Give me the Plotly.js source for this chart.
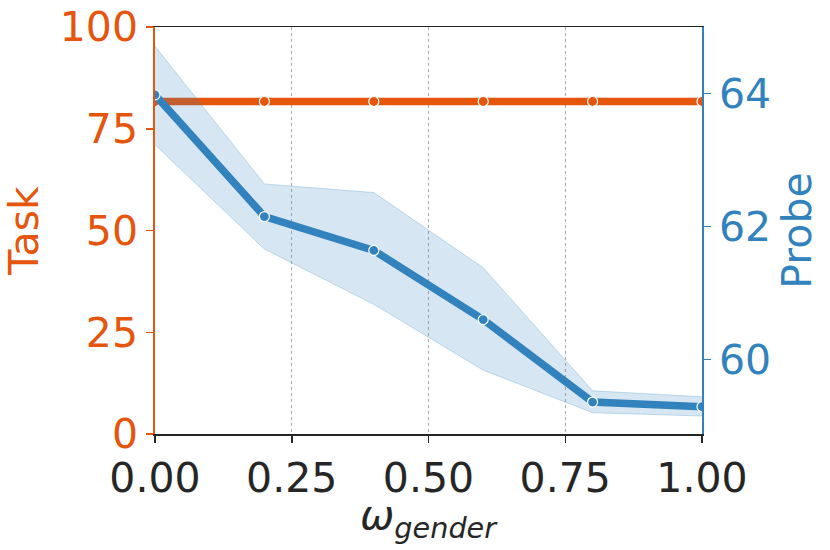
<!DOCTYPE html>
<html><head><meta charset="utf-8">
<script src="https://cdn.plot.ly/plotly-3.0.1.min.js"></script>
<style>html,body{margin:0;padding:0;background:#fff}</style>
</head><body>
<div id="chart" style="width:830px;height:550px"></div>
<script>
const omega = [0.0, 0.2, 0.4, 0.6, 0.8, 1.0];
const taskScore = [81.7, 81.7, 81.7, 81.7, 81.7, 81.7];
const probeMean = [63.98, 62.15, 61.64, 60.60, 59.36, 59.29];
const probeUpper = [64.71, 62.64, 62.51, 61.38, 59.53, 59.44];
const probeLower = [63.23, 61.66, 60.83, 59.84, 59.20, 59.15];
const xTicks = [0, 0.25, 0.5, 0.75, 1.0];
const xTickText = ["0.00", "0.25", "0.50", "0.75", "1.00"];
const taskTicks = [0, 25, 50, 75, 100];
const probeTicks = [60, 62, 64];
const xLabel = "<i>ω</i><sub><i>gender</i></sub>";

const orange = "#e6550d";
const blue = "#3182bd";
const font = "DejaVu Sans, sans-serif";

const traces = [
  {x: omega, y: taskScore, type: "scatter", mode: "lines+markers", yaxis: "y",
   line: {color: orange, width: 7.5},
   marker: {color: orange, size: 10, line: {color: "#fff", width: 1.2}},
   showlegend: false},
  {x: omega, y: probeUpper, type: "scatter", mode: "lines", yaxis: "y2",
   line: {color: "rgba(49,130,189,0.25)", width: 1}, showlegend: false},
  {x: omega, y: probeLower, type: "scatter", mode: "lines", yaxis: "y2",
   fill: "tonexty", fillcolor: "rgba(49,130,189,0.2)",
   line: {color: "rgba(49,130,189,0.25)", width: 1}, showlegend: false},
  {x: omega, y: probeMean, type: "scatter", mode: "lines+markers", yaxis: "y2",
   line: {color: blue, width: 7.5},
   marker: {color: blue, size: 10, line: {color: "#fff", width: 1.2}},
   showlegend: false}
];

const layout = {
  width: 830, height: 550,
  margin: {l: 155, r: 128, t: 27, b: 116},
  paper_bgcolor: "#fff", plot_bgcolor: "#fff",
  font: {family: font, color: "#262626"},
  xaxis: {
    range: [0, 1], tickvals: xTicks, ticktext: xTickText,
    tickfont: {size: 41, color: "#262626"},
    ticks: "outside", ticklen: 7, tickwidth: 1.5, tickcolor: "#262626",
    showline: true, linecolor: "#262626", linewidth: 1.5, mirror: true,
    showgrid: true, gridcolor: "#a8a8a8", gridwidth: 1, griddash: "dot",
    zeroline: false
  },
  yaxis: {
    range: [0, 100], tickvals: taskTicks,
    tickfont: {size: 41, color: orange},
    ticks: "outside", ticklen: 7, tickwidth: 1.5, tickcolor: orange,
    showline: true, linecolor: orange, linewidth: 1.8,
    showgrid: false, zeroline: false,
    title: {text: "Task", font: {size: 41, color: orange}, standoff: 12}
  },
  yaxis2: {
    range: [58.88, 65.0], tickvals: probeTicks, overlaying: "y", side: "right",
    tickfont: {size: 41, color: blue},
    ticks: "outside", ticklen: 7, tickwidth: 1.5, tickcolor: blue,
    showline: true, linecolor: blue, linewidth: 1.8,
    showgrid: false, zeroline: false,
    title: {text: "Probe", font: {size: 41, color: blue}, standoff: 12}
  },
  annotations: [{
    text: xLabel, xref: "paper", yref: "paper", x: 0.5, y: -0.135,
    xanchor: "center", yanchor: "top", showarrow: false,
    font: {size: 41, color: "#262626", family: font}
  }]
};

Plotly.newPlot("chart", traces, layout, {displayModeBar: false, staticPlot: true});
</script>
</body></html>
